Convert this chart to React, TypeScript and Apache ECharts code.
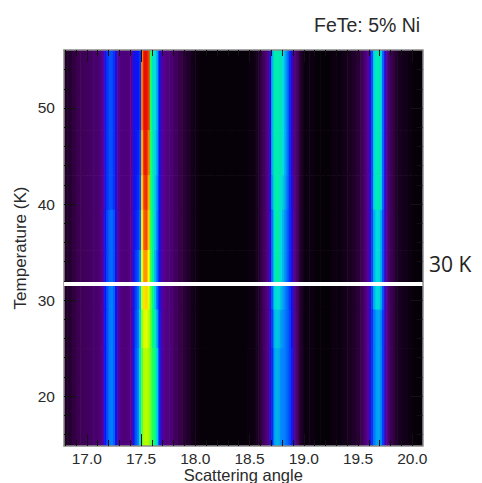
import React, { useEffect, useRef } from "react";
import * as echarts from "echarts";

const X_MIN = 16.79;
const X_MAX = 20.094;
const Y_MIN = 14.8;
const Y_MAX = 56.04;

const xMajorTicks = [17, 17.5, 18, 18.5, 19, 19.5, 20];
const xMinorTicks = [16.8, 16.9, 17.1, 17.2, 17.3, 17.4, 17.6, 17.7, 17.8, 17.9, 18.1, 18.2, 18.3, 18.4, 18.6, 18.7, 18.8, 18.9, 19.1, 19.2, 19.3, 19.4, 19.6, 19.7, 19.8, 19.9];
const yMajorTicks = [20, 30, 40, 50];
const yMinorTicks = [16, 18, 22, 24, 26, 28, 32, 34, 36, 38, 42, 44, 46, 48, 52, 54];

const title = "FeTe: 5% Ni";
const xName = "Scattering angle";
const yName = "Temperature (K)";
const transitionLabel = "30 K";
const transitionTemp = 31.67;

// Left edge of each image column (scattering angle)
const columnEdges = [
  16.79, 16.82, 16.86, 16.9, 16.94, 16.98, 17.02, 17.06,
  17.1, 17.12, 17.14, 17.16, 17.18, 17.2, 17.22, 17.24, 17.26, 17.28, 17.3,
  17.32, 17.36,
  17.38, 17.4, 17.42, 17.44, 17.46, 17.48, 17.5, 17.52, 17.54, 17.56, 17.58, 17.6, 17.62, 17.64, 17.66, 17.68, 17.7,
  17.72, 17.76, 17.8, 17.84, 17.88, 17.92, 17.96, 18, 18.04, 18.08, 18.18, 18.28, 18.38, 18.48,
  18.54, 18.56, 18.58, 18.6, 18.62, 18.64, 18.66, 18.68, 18.7, 18.72, 18.74, 18.76, 18.78, 18.8, 18.82, 18.84, 18.86, 18.88, 18.9, 18.92, 18.94, 18.96, 18.98,
  19, 19.05, 19.1, 19.15, 19.2, 19.25, 19.3, 19.35, 19.4, 19.44, 19.48,
  19.52, 19.54, 19.56, 19.58, 19.6, 19.62, 19.64, 19.66, 19.68, 19.7, 19.72, 19.74, 19.76, 19.78, 19.8, 19.82, 19.84,
  19.86, 19.91, 19.96, 20.01, 20.06, 20.094,
];

// Intensity, 0-100, by stretch of the angle axis
const wingLeft = [5, 6, 8, 10, 11, 12, 13, 14];
const peak1High = [15, 17, 21, 28, 33, 36, 36, 33, 27, 21, 17];
const peak1Mid = [15, 17, 22, 29, 35, 38, 39, 36, 28, 21, 17];
const peak1Low = [15, 17, 22, 30, 36, 40, 41, 38, 30, 22, 17];
const gapA = [16, 16];
const peak2Top = [17, 20, 27, 30, 30, 33, 92, 99, 99, 96, 62, 52, 50, 44, 30, 22, 19];
const peak2Upper = [17, 20, 27, 30, 31, 35, 88, 98, 98, 92, 62, 54, 49, 43, 30, 22, 19];
const peak2Warm = [17, 20, 27, 30, 32, 36, 85, 96, 97, 88, 62, 55, 48, 41, 30, 22, 19];
const peak2Middle = [17, 20, 27, 31, 33, 38, 82, 94, 95, 85, 63, 56, 48, 40, 30, 22, 19];
const peak2Lower = [17, 20, 28, 33, 36, 43, 78, 90, 90, 80, 64, 56, 46, 38, 30, 22, 19];
const peak2Near = [17, 20, 28, 34, 38, 47, 74, 83, 84, 76, 66, 58, 48, 38, 30, 22, 19];
const peak2Cool = [17, 20, 28, 35, 39, 49, 69, 76, 77, 73, 66, 60, 54, 44, 31, 23, 19];
const peak2Cold = [17, 20, 28, 36, 40, 51, 66, 72, 73, 70, 66, 62, 59, 48, 32, 23, 19];
const fadeB = [17, 15, 12, 9, 7, 5, 3, 2, 1, 1, 1, 1, 1, 2];
const peak3High = [3, 4, 6, 9, 12, 15, 18, 28, 46, 54, 55, 54, 53, 50, 45, 40, 33, 26, 18, 14, 10, 6, 4];
const peak3Warm = [3, 4, 6, 9, 12, 15, 18, 28, 44, 53, 56, 54, 52, 48, 44, 39, 33, 27, 19, 14, 10, 6, 4];
const peak3Mid = [3, 4, 6, 9, 12, 15, 18, 27, 40, 52, 56, 54, 50, 46, 42, 38, 33, 28, 20, 14, 10, 6, 4];
const peak3Near = [3, 4, 6, 9, 12, 15, 18, 27, 37, 49, 51, 50, 47, 44, 41, 38, 34, 29, 21, 14, 10, 6, 4];
const peak3Cool = [3, 4, 6, 9, 12, 15, 18, 26, 34, 46, 48, 47, 44, 42, 40, 38, 35, 30, 21, 15, 10, 6, 4];
const peak3Low = [3, 4, 6, 9, 12, 15, 18, 26, 32, 44, 46, 45, 42, 41, 40, 38, 35, 31, 22, 15, 10, 6, 4];
const gapC = [2, 2, 1, 1, 1, 2, 2, 3, 4, 5, 7];
const peak4High = [10, 13, 16, 20, 26, 36, 50, 54, 54, 50, 38, 26, 18, 13, 10, 8, 6];
const peak4Mid = [10, 13, 16, 20, 26, 35, 46, 50, 50, 46, 36, 25, 18, 13, 10, 8, 6];
const peak4Low = [10, 13, 16, 20, 26, 33, 40, 44, 45, 42, 34, 24, 18, 13, 10, 8, 6];
const wingRight = [4, 3, 2, 1, 1];

const bandEdges = [56.04, 47.7, 43, 39.4, 35.2, 31.67, 29, 25, 14.8];
const bandProfiles = [
  [...wingLeft, ...peak1High, ...gapA, ...peak2Top, ...fadeB, ...peak3High, ...gapC, ...peak4High, ...wingRight],
  [...wingLeft, ...peak1High, ...gapA, ...peak2Upper, ...fadeB, ...peak3High, ...gapC, ...peak4High, ...wingRight],
  [...wingLeft, ...peak1High, ...gapA, ...peak2Warm, ...fadeB, ...peak3Warm, ...gapC, ...peak4High, ...wingRight],
  [...wingLeft, ...peak1Mid, ...gapA, ...peak2Middle, ...fadeB, ...peak3Mid, ...gapC, ...peak4Mid, ...wingRight],
  [...wingLeft, ...peak1Mid, ...gapA, ...peak2Lower, ...fadeB, ...peak3Mid, ...gapC, ...peak4Mid, ...wingRight],
  [...wingLeft, ...peak1Low, ...gapA, ...peak2Near, ...fadeB, ...peak3Near, ...gapC, ...peak4Mid, ...wingRight],
  [...wingLeft, ...peak1Low, ...gapA, ...peak2Cool, ...fadeB, ...peak3Cool, ...gapC, ...peak4Low, ...wingRight],
  [...wingLeft, ...peak1Low, ...gapA, ...peak2Cold, ...fadeB, ...peak3Low, ...gapC, ...peak4Low, ...wingRight],
];

const colorScale = [
  "#000000", "#3c0050", "#5a0096", "#0a14f5", "#0078ff", "#00dcdc",
  "#00ff78", "#a0ff00", "#ffff00", "#ff9600", "#e60000",
];

const cells: number[][] = [];
bandProfiles.forEach((profile, b) => {
  profile.forEach((v, c) => {
    cells.push([columnEdges[c], columnEdges[c + 1], bandEdges[b + 1], bandEdges[b], v]);
  });
});

const FONT = "'Liberation Sans', Arial, sans-serif";
const TICK = "#111";

function hAxis(position: string, ticks: number[], len: number, labels: boolean, line: boolean, extra: any = {}) {
  return {
    type: "value", position, min: X_MIN, max: X_MAX, z: 10, scale: true,
    splitLine: { show: false },
    axisLine: { show: line, onZero: false, lineStyle: { color: "#8c8c8c", width: 1.5 } },
    axisTick: { show: true, inside: true, length: len, customValues: ticks, lineStyle: { color: TICK, width: 1 } },
    axisLabel: labels
      ? { show: true, customValues: ticks, margin: 4, fontFamily: FONT, fontSize: 15.5, color: "#2a2a2a", formatter: (v: number) => v.toFixed(1) }
      : { show: false },
    ...extra,
  };
}
function vAxis(position: string, ticks: number[], len: number, labels: boolean, line: boolean, extra: any = {}) {
  return {
    type: "value", position, min: Y_MIN, max: Y_MAX, z: 10, scale: true,
    splitLine: { show: false },
    axisLine: { show: line, onZero: false, lineStyle: { color: "#8c8c8c", width: 1.5 } },
    axisTick: { show: true, inside: true, length: len, customValues: ticks, lineStyle: { color: TICK, width: 1 } },
    axisLabel: labels
      ? { show: true, customValues: ticks, margin: 9, fontFamily: FONT, fontSize: 15.5, color: "#2a2a2a", formatter: (v: number) => String(v) }
      : { show: false },
    ...extra,
  };
}

export default function App() {
  const ref = useRef<HTMLDivElement>(null);
  useEffect(() => {
    document.body.style.margin = "0";
    const chart = echarts.init(ref.current!, null, { renderer: "svg" });
    chart.setOption({
      animation: false,
      backgroundColor: "#ffffff",
      title: {
        text: title, left: 309, top: 10,
        textStyle: { fontFamily: FONT, fontSize: 19.5, fontWeight: "normal", color: "#2a2a2a" },
      },
      grid: { left: 64, top: 50, width: 358.5, height: 396, outerBoundsMode: "none", containLabel: false },
      visualMap: { show: false, min: 0, max: 100, dimension: 4, seriesIndex: 0, inRange: { color: colorScale } },
      xAxis: [
        hAxis("bottom", xMajorTicks, 12, true, true, {
          name: xName, nameLocation: "middle", nameGap: 20, nameMoveOverlap: false,
          nameTextStyle: { fontFamily: FONT, fontSize: 16.5, color: "#2a2a2a" },
        }),
        hAxis("bottom", xMinorTicks, 6, false, false),
        hAxis("top", xMajorTicks, 12, false, true),
        hAxis("top", xMinorTicks, 6, false, false),
      ],
      yAxis: [
        vAxis("left", yMajorTicks, 12, true, true, {
          name: yName, nameLocation: "middle", nameGap: 35, nameMoveOverlap: false,
          nameTextStyle: { fontFamily: FONT, fontSize: 17, color: "#2a2a2a" },
        }),
        vAxis("left", yMinorTicks, 6, false, false),
        vAxis("right", yMajorTicks, 12, false, true),
        vAxis("right", yMinorTicks, 6, false, false),
      ],
      series: [
        {
          type: "custom",
          coordinateSystem: "cartesian2d",
          xAxisIndex: 0,
          yAxisIndex: 0,
          data: cells,
          encode: { x: [0, 1], y: [2, 3] },
          renderItem: (_p: any, api: any) => {
            const a = api.coord([api.value(0), api.value(3)]);
            const b = api.coord([api.value(1), api.value(2)]);
            return {
              type: "rect",
              shape: { x: a[0], y: a[1], width: b[0] - a[0] + 0.6, height: b[1] - a[1] + 0.6 },
              style: { fill: api.visual("color") },
            };
          },
          clip: true,
        },
        {
          type: "line",
          xAxisIndex: 0,
          yAxisIndex: 0,
          data: [[X_MIN, transitionTemp], [X_MAX, transitionTemp]],
          showSymbol: false,
          clip: false,
          z: 20,
          lineStyle: { color: "#ffffff", width: 4 },
        },
      ],
      graphic: [
        {
          type: "text", left: 429, top: 253, z: 30,
          style: { text: transitionLabel, fontFamily: "'Open Sans', sans-serif", fontSize: 21, fill: "#222" },
        },
      ],
    });
    return () => chart.dispose();
  }, []);
  return <div ref={ref} style={{ width: 482, height: 483 }} />;
}
